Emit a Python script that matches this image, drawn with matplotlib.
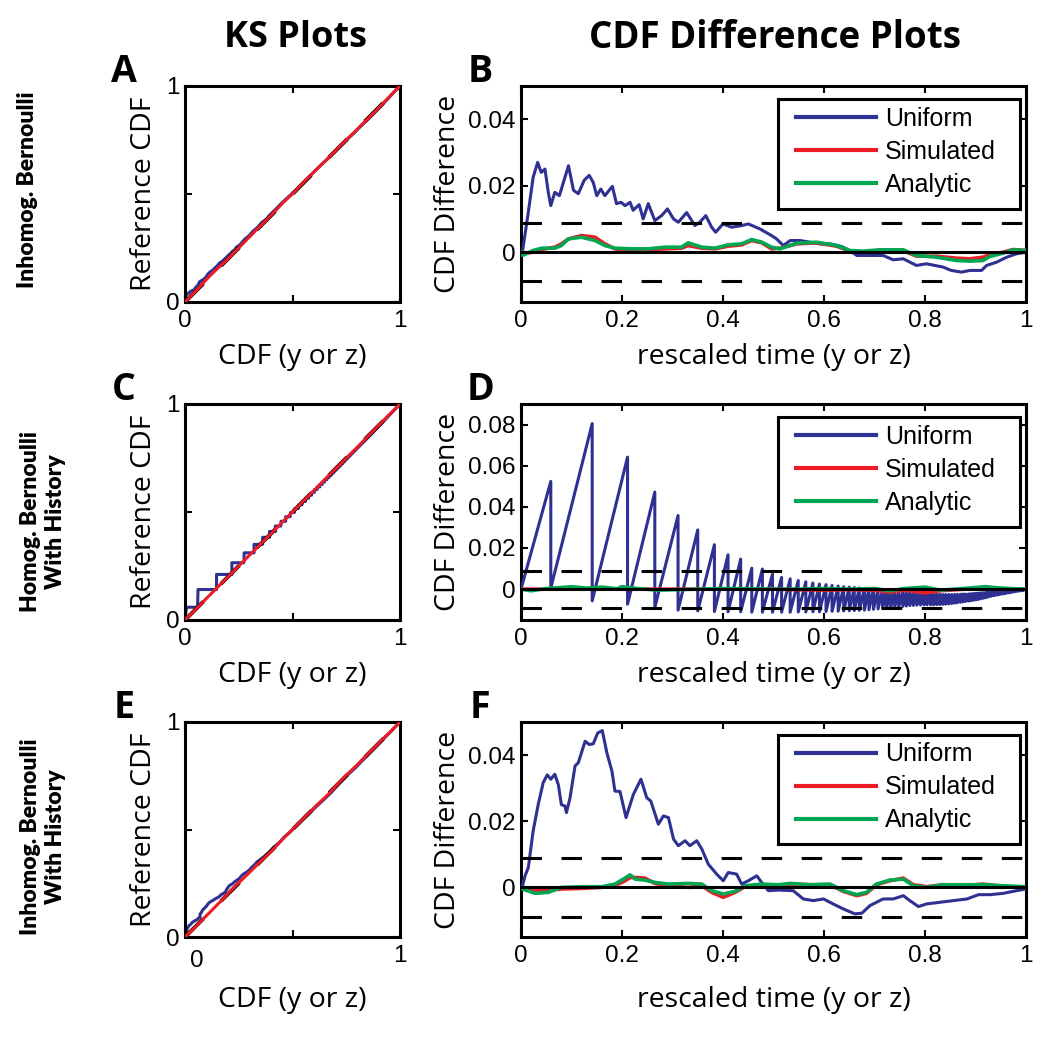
import numpy as np
import matplotlib
matplotlib.use("Agg")
import matplotlib.pyplot as plt
from matplotlib.patches import Rectangle
from matplotlib.transforms import ScaledTranslation

# ---------------- data ----------------
# Panel B: CDF difference, inhomogeneous Bernoulli
b_uni_t = [0, 0.003, 0.0145, 0.024, 0.033, 0.04, 0.0475, 0.054, 0.059, 0.067,
           0.076, 0.094, 0.104, 0.1135, 0.125, 0.135, 0.143, 0.15, 0.158, 0.166,
           0.181, 0.189, 0.198, 0.206, 0.216, 0.222, 0.234, 0.242, 0.252, 0.265,
           0.2785, 0.29, 0.302, 0.3115, 0.328, 0.3445, 0.354, 0.366, 0.3775, 0.3855,
           0.4, 0.417, 0.437, 0.45, 0.473, 0.496, 0.506, 0.5195, 0.533, 0.5525,
           0.572, 0.592, 0.612, 0.635, 0.651, 0.665, 0.691, 0.717, 0.737, 0.757,
           0.783, 0.803, 0.836, 0.852, 0.872, 0.889, 0.912, 0.922, 0.942, 0.962,
           0.981, 1.0]
b_uni = [0, 0.0003, 0.012, 0.0225, 0.027, 0.024, 0.025, 0.018, 0.014, 0.018,
         0.017, 0.026, 0.0186, 0.0176, 0.0216, 0.0231, 0.021, 0.017, 0.019, 0.017,
         0.0198, 0.0146, 0.015, 0.014, 0.015, 0.0126, 0.0143, 0.010, 0.0146, 0.0095,
         0.011, 0.013, 0.010, 0.009, 0.0119, 0.008, 0.009, 0.011, 0.0075, 0.006,
         0.0085, 0.0075, 0.008, 0.0085, 0.007, 0.005, 0.004, 0.002, 0.0035, 0.0035,
         0.003, 0.0025, 0.0025, 0.0017, 0.0005, -0.001, -0.001, -0.001, -0.0023, -0.002,
         -0.004, -0.0035, -0.0045, -0.0055, -0.006, -0.0055, -0.0055, -0.004, -0.003, -0.0015,
         -0.0005, 0]
b_t = [0, 0.003, 0.024, 0.041, 0.067, 0.08, 0.094, 0.12, 0.1465, 0.166,
       0.186, 0.219, 0.252, 0.285, 0.318, 0.331, 0.358, 0.384, 0.41, 0.437,
       0.457, 0.477, 0.496, 0.513, 0.546, 0.585, 0.625, 0.651, 0.677, 0.71,
       0.757, 0.783, 0.822, 0.862, 0.889, 0.915, 0.928, 0.955, 0.974, 1.0]
b_sim = [0, -0.0005, 0.0, 0.0008, 0.0015, 0.0025, 0.004, 0.005, 0.0045, 0.0025,
         0.001, 0.0005, 0.0008, 0.001, 0.0012, 0.002, 0.0012, 0.001, 0.0018, 0.0022,
         0.0035, 0.0028, 0.001, 0.0012, 0.0025, 0.0028, 0.0018, 0.0003, 0.0, 0.0005,
         0.0004, -0.0012, -0.0012, -0.0018, -0.002, -0.0015, -0.0008, 0.0, 0.0008, 0.0005]
b_ana = [0, -0.001, 0.0005, 0.0012, 0.0012, 0.002, 0.004, 0.0045, 0.0035, 0.002,
         0.0012, 0.001, 0.001, 0.0015, 0.0015, 0.0028, 0.0015, 0.0012, 0.0022, 0.0025,
         0.0038, 0.003, 0.0015, 0.001, 0.0027, 0.003, 0.002, 0.0005, 0.0003, 0.0007,
         0.0007, -0.001, -0.0015, -0.0025, -0.0027, -0.0025, -0.0013, -0.0003, 0.0007, 0.0005]

# Panel D: homogeneous Bernoulli with history (sawtooth: jump time, value before, value after)
d_jump = [0.059, 0.141, 0.211, 0.265, 0.311, 0.350, 0.383, 0.410, 0.435, 0.457,
          0.478, 0.498, 0.516, 0.533, 0.549, 0.564, 0.578, 0.591, 0.604, 0.616,
          0.628, 0.639, 0.650, 0.660, 0.670, 0.680, 0.689, 0.698, 0.707, 0.716,
          0.724, 0.732, 0.740, 0.748, 0.756, 0.763, 0.770, 0.777, 0.784, 0.791,
          0.798, 0.804, 0.811, 0.817, 0.823, 0.829, 0.835, 0.841, 0.847, 0.853,
          0.859, 0.864, 0.870, 0.875, 0.880, 0.886, 0.891, 0.896, 0.901, 0.906,
          0.911, 0.916, 0.921, 0.925, 0.930, 0.935, 0.939, 0.944, 0.948, 0.953,
          0.957, 0.961, 0.966, 0.970, 0.974, 0.978, 0.982, 0.986, 0.990, 0.994, 1.0]
d_peak = [0.0524, 0.0805, 0.0642, 0.0472, 0.0358, 0.0288, 0.0216, 0.0167, 0.0146, 0.0102,
          0.0098, 0.0073, 0.0057, 0.0050, 0.0042, 0.0036, 0.0030, 0.0025, 0.0022, 0.0018,
          0.0015, 0.0012, 0.0010, 0.0008, 0.0006, 0.0004, 0.0002, 0.0000, -0.0002, -0.0004,
          -0.0006, -0.0008, -0.0010, -0.0012, -0.0014, -0.0015, -0.0016, -0.0018, -0.0020, -0.0020,
          -0.0022, -0.0022, -0.0024, -0.0024, -0.0025, -0.0025, -0.0026, -0.0026, -0.0026, -0.0026,
          -0.0026, -0.0025, -0.0025, -0.0024, -0.0024, -0.0023, -0.0022, -0.0021, -0.0020, -0.0019,
          -0.0018, -0.0017, -0.0016, -0.0015, -0.0014, -0.0013, -0.0012, -0.0011, -0.0010, -0.0009,
          -0.0008, -0.0007, -0.0006, -0.0006, -0.0005, -0.0004, -0.0004, -0.0003, -0.0003, -0.0002, 0.0]
d_trough = [0.0005, -0.0057, -0.0073, -0.0089, -0.0102, -0.0106, -0.0109, -0.0110, -0.0110, -0.0112,
            -0.0112, -0.0112, -0.0112, -0.0112, -0.0111, -0.0111, -0.0110, -0.0110, -0.0109, -0.0108,
            -0.0107, -0.0106, -0.0105, -0.0104, -0.0103, -0.0102, -0.0100, -0.0098, -0.0096, -0.0094,
            -0.0092, -0.0090, -0.0088, -0.0086, -0.0084, -0.0082, -0.0080, -0.0079, -0.0078, -0.0077,
            -0.0076, -0.0076, -0.0076, -0.0076, -0.0075, -0.0075, -0.0074, -0.0073, -0.0072, -0.0070,
            -0.0068, -0.0066, -0.0064, -0.0062, -0.0060, -0.0058, -0.0056, -0.0054, -0.0052, -0.0050,
            -0.0047, -0.0044, -0.0041, -0.0038, -0.0035, -0.0032, -0.0030, -0.0028, -0.0026, -0.0024,
            -0.0022, -0.0020, -0.0018, -0.0016, -0.0014, -0.0012, -0.0010, -0.0009, -0.0008, -0.0006, 0.0]
d_t = [0, 0.02, 0.05, 0.08, 0.1, 0.13, 0.16, 0.19, 0.2, 0.23,
       0.27, 0.3, 0.35, 0.4, 0.45, 0.5, 0.55, 0.6, 0.65, 0.7,
       0.73, 0.76, 0.8, 0.83, 0.86, 0.9, 0.92, 0.95, 1.0]
d_sim = [0, 0, 0, 0, 0, 0, 0, 0, 0, 0,
         0, 0, 0, 0, 0, 0, -0.0003, -0.0005, -0.0003, -0.0005,
         -0.0015, -0.0005, -0.0018, -0.0008, -0.0003, 0.0003, 0.0005, 0.0003, 0]
d_ana = [0, -0.0008, 0.0003, 0.0008, 0.0012, 0.0005, 0.0010, 0.0002, 0.0012, 0.0003,
         -0.0005, -0.0003, 0.0, 0.0003, 0.0002, 0.0, 0.0, 0.0003, 0.0, 0.0003,
         -0.0008, 0.0003, 0.001, -0.0005, 0.0, 0.0008, 0.0012, 0.0005, 0.0]

# Panel F: inhomogeneous Bernoulli with history
f_uni_t = [0, 0.003, 0.008, 0.0145, 0.024, 0.034, 0.044, 0.052, 0.059, 0.067,
           0.074, 0.08, 0.087, 0.09, 0.097, 0.107, 0.1135, 0.127, 0.135, 0.143,
           0.152, 0.161, 0.17, 0.18, 0.186, 0.196, 0.208, 0.2225, 0.2375, 0.249,
           0.257, 0.272, 0.282, 0.292, 0.302, 0.3115, 0.325, 0.3345, 0.348, 0.358,
           0.371, 0.3875, 0.4005, 0.4105, 0.427, 0.437, 0.45, 0.467, 0.4765, 0.49,
           0.51, 0.539, 0.559, 0.579, 0.599, 0.618, 0.638, 0.661, 0.675, 0.691,
           0.717, 0.737, 0.757, 0.77, 0.787, 0.803, 0.83, 0.856, 0.883, 0.906,
           0.929, 0.955, 0.981, 1.0]
f_uni = [0, 0.0005, 0.0035, 0.006, 0.017, 0.025, 0.0317, 0.034, 0.0327, 0.0342,
         0.031, 0.025, 0.0246, 0.0226, 0.027, 0.0367, 0.0377, 0.0442, 0.0432, 0.0434,
         0.0467, 0.0474, 0.0407, 0.0352, 0.0291, 0.029, 0.0211, 0.0281, 0.0327, 0.0271,
         0.0261, 0.0191, 0.0216, 0.0211, 0.0146, 0.0126, 0.0141, 0.0126, 0.0141, 0.0116,
         0.007, 0.004, 0.002, 0.0045, 0.004, 0.001, 0.002, 0.0035, 0.0015, -0.001,
         -0.0008, -0.001, -0.0035, -0.004, -0.0035, -0.005, -0.0065, -0.008, -0.0078, -0.0055,
         -0.0035, -0.0035, -0.0025, -0.004, -0.0058, -0.005, -0.0045, -0.004, -0.0035, -0.0022,
         -0.0022, -0.0018, -0.001, -0.0005]
f_t = [0, 0.003, 0.028, 0.054, 0.08, 0.12, 0.16, 0.186, 0.206, 0.216,
       0.226, 0.2455, 0.265, 0.292, 0.3315, 0.358, 0.3775, 0.4005, 0.424, 0.4435,
       0.4765, 0.51, 0.533, 0.572, 0.612, 0.638, 0.665, 0.684, 0.704, 0.73,
       0.757, 0.777, 0.803, 0.836, 0.876, 0.915, 0.955, 1.0]
f_sim = [0, -0.0003, -0.001, -0.0008, -0.0005, -0.0003, 0.0, 0.0005, 0.002, 0.003,
         0.003, 0.0028, 0.0012, 0.0005, 0.0, 0.0005, -0.0015, -0.003, -0.0015, 0.0002,
         0.0008, 0.0005, 0.001, 0.0008, 0.0008, -0.0012, -0.0025, -0.0018, 0.0008, 0.002,
         0.0028, 0.0008, 0.0002, 0.0008, 0.0005, 0.001, 0.0003, 0.0]
f_ana = [0, -0.0005, -0.0018, -0.0015, 0, 0.0002, 0.0002, 0.001, 0.0028, 0.0038,
         0.0025, 0.0022, 0.0015, 0.001, 0.0012, 0.001, -0.001, -0.002, -0.0012, 0.0005,
         0.001, 0.0008, 0.0012, 0.0008, 0.001, -0.001, -0.0022, -0.0015, 0.001, 0.0022,
         0.0025, 0.0005, 0, 0.0008, 0.0008, 0.0008, 0.0005, 0.0002]

conf_bounds = [0.0088, 0.009, 0.009]          # 95% KS confidence bounds (B, D, F)
series_labels = ["Uniform", "Simulated", "Analytic"]
col_titles = ["KS Plots", "CDF Difference Plots"]
row_titles = ["Inhomog. Bernoulli", "Homog. Bernoulli\nWith History",
              "Inhomog. Bernoulli\nWith History"]
panel_letters = ["A", "B", "C", "D", "E", "F"]

# ---------------- style ----------------
BLUE, RED, GREEN = "#2e3192", "#ed1c24", "#00a651"
TICKFONT = "Liberation Sans"
LABFONT = "Open Sans"
ROWFONT = "Lato"
LW = 2.2
DASH = (0, (6.7, 6.4))

W, H = 1050, 1039
fig = plt.figure(figsize=(W / 100, H / 100), dpi=100)


def rect(x0, y0, x1, y1):
    return [x0 / W, 1 - y1 / H, (x1 - x0) / W, (y1 - y0) / H]


rows_px = [(86, 302), (404, 620), (722, 937)]
ks_axes = [fig.add_axes(rect(185, a, 400, b)) for a, b in rows_px]
df_axes = [fig.add_axes(rect(521, a, 1026, b)) for a, b in rows_px]


def style(ax):
    for s in ax.spines.values():
        s.set_linewidth(LW)
    ax.tick_params(direction="in", length=5, width=1.5, top=True, right=True,
                   labelsize=17.5)
    ax.tick_params(axis="x", pad=6)
    ax.tick_params(axis="y", pad=4)
    for lab in ax.get_xticklabels() + ax.get_yticklabels():
        lab.set_fontfamily(TICKFONT)


def sawtooth(jumps, peaks, troughs):
    t, d = [0.0], [0.0]
    for x, p, q in zip(jumps, peaks, troughs):
        t += [x, x]
        d += [p, q]
    return np.array(t), np.array(d)


d_uni_t, d_uni = sawtooth(d_jump, d_peak, d_trough)

diff_sets = [
    (b_uni_t, b_uni, b_t, b_sim, b_t, b_ana, (-0.015, 0.05), [0, 0.02, 0.04]),
    (d_uni_t, d_uni, d_t, d_sim, d_t, d_ana, (-0.015, 0.09), [0, 0.02, 0.04, 0.06, 0.08]),
    (f_uni_t, f_uni, f_t, f_sim, f_t, f_ana, (-0.015, 0.05), [0, 0.02, 0.04]),
]

for i, (ut, ud, st, sd, at, ad, ylim, yt) in enumerate(diff_sets):
    ut, ud, st, sd, at, ad = map(np.asarray, (ut, ud, st, sd, at, ad))
    # ---- CDF difference panel ----
    ax = df_axes[i]
    ax.plot(ut, ud, color=BLUE, lw=LW, label=series_labels[0], zorder=3)
    ax.plot(st, sd, color=RED, lw=2.6, label=series_labels[1], zorder=3)
    ax.plot(at, ad, color=GREEN, lw=2.6, label=series_labels[2], zorder=3)
    ax.axhline(0, color="k", lw=LW, zorder=4)
    ax.axhline(conf_bounds[i], color="k", lw=LW, ls=DASH, zorder=4)
    ax.axhline(-conf_bounds[i], color="k", lw=LW, ls=DASH, zorder=4)
    ax.set_xlim(0, 1)
    ax.set_ylim(*ylim)
    ax.set_xticks([0, 0.2, 0.4, 0.6, 0.8, 1.0])
    ax.set_xticklabels(["0", "0.2", "0.4", "0.6", "0.8", "1"])
    ax.set_yticks(yt)
    ax.set_yticklabels(["0"] + ["%.2f" % v for v in yt[1:]])
    style(ax)
    ax.set_xlabel("rescaled time (y or z)", fontsize=20.5, fontfamily=LABFONT)
    ax.set_ylabel("CDF Difference", fontsize=20.5, fontfamily=LABFONT)
    # legend: frame drawn as a box in axes coordinates, entries placed inside
    ax.add_patch(Rectangle((0.509, 0.432), 0.479, 0.508, transform=ax.transAxes,
                           facecolor="white", edgecolor="k", lw=LW, zorder=6))
    leg = ax.legend(loc="upper left", bbox_to_anchor=(0.545, 0.905),
                    borderaxespad=0, frameon=False, borderpad=0,
                    prop={"family": TICKFONT, "size": 18}, handlelength=3.2,
                    handletextpad=0.35, labelspacing=0.36)
    leg.set_zorder(7)
    for ln in leg.get_lines():
        ln.set_linewidth(3)

    # ---- KS panel ----
    ax = ks_axes[i]
    ax.plot(ut - ud, ut, color=BLUE, lw=LW, zorder=2)
    ax.plot([0, 1], [0, 1], color="k", lw=LW + 0.6, ls=DASH, zorder=3)
    ax.plot(st - sd, st, color=RED, lw=LW, zorder=4)
    ax.set_xlim(0, 1)
    ax.set_ylim(0, 1)
    ax.set_xticks([0, 0.5, 1])
    ax.set_xticklabels(["0", "", "1"])
    ax.set_yticks([0, 0.5, 1])
    ax.set_yticklabels(["0", "", "1"])
    style(ax)
    ax.set_xlabel("CDF (y or z)", fontsize=20.5, fontfamily=LABFONT)
    ax.set_ylabel("Reference CDF", fontsize=20.5, fontfamily=LABFONT)

# label positions (axes coordinates)
for ax in ks_axes:
    ax.yaxis.set_label_coords(-0.125, 0.5)
for ax in df_axes:
    ax.yaxis.set_label_coords(-0.117, 0.5)
for ax in ks_axes + df_axes:
    ax.xaxis.set_label_coords(0.5, -0.19)
ks_axes[2].xaxis.set_label_coords(0.5, -0.23)
df_axes[2].xaxis.set_label_coords(0.5, -0.23)

# E panel "0" tick label is shifted right in the reference
lab0 = ks_axes[2].get_xticklabels()[0]
lab0.set_transform(lab0.get_transform() + ScaledTranslation(0.12, -0.05, fig.dpi_scale_trans))

# column titles
fig.text(295 / W, 1 - 38 / H, col_titles[0], ha="center", va="center",
         fontsize=26, fontweight="bold", fontfamily=LABFONT)
fig.text(775 / W, 1 - 38 / H, col_titles[1], ha="center", va="center",
         fontsize=26.5, fontweight="bold", fontfamily=LABFONT)

# row titles
row_x = [28, 43, 43]
row_y = [190, 522, 837]
for x, y, txt in zip(row_x, row_y, row_titles):
    fig.text(x / W, 1 - y / H, txt, ha="center", va="center",
             rotation=90, fontsize=16.5, fontweight="heavy", fontfamily=ROWFONT,
             linespacing=1.2)

# panel letters
for (a, b), (l1, l2) in zip(rows_px, zip(panel_letters[0::2], panel_letters[1::2])):
    fig.text(124 / W, 1 - (a - 14) / H, l1, ha="center", va="center",
             fontsize=27, fontweight="bold", fontfamily=LABFONT)
    fig.text(480 / W, 1 - (a - 14) / H, l2, ha="center", va="center",
             fontsize=27, fontweight="bold", fontfamily=LABFONT)

fig.savefig("out.png", dpi=100)
